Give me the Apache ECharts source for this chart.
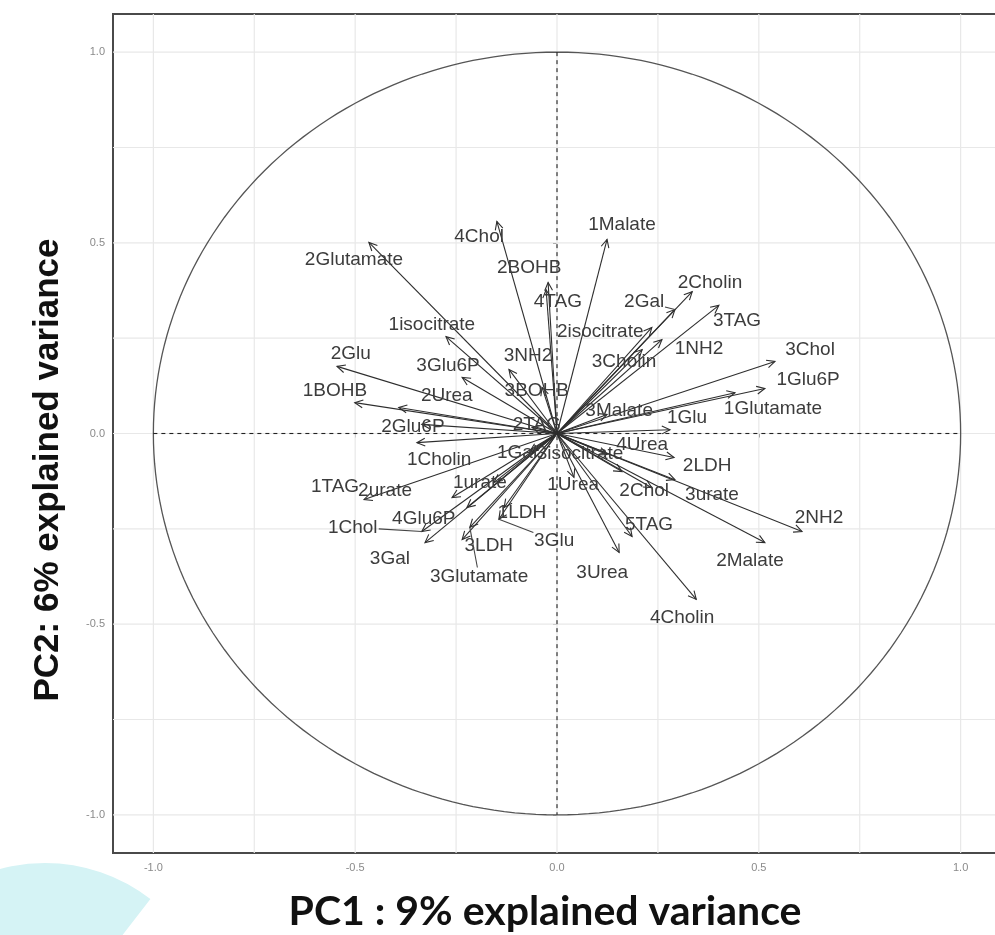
<!DOCTYPE html>
<html><head><meta charset="utf-8">
<script src="https://cdn.jsdelivr.net/npm/echarts@6.0.0/dist/echarts.min.js"></script>
<style>html,body{margin:0;padding:0;background:#fff}#c{width:995px;height:935px}</style>
</head><body><div id="c"></div>
<script>
// ---- data (variable loadings on PC1 / PC2) ----
const varNames = ['2Glutamate','4Chol','2BOHB','4TAG','1Malate','2Cholin','2Gal','3TAG','1isocitrate','2isocitrate',
  '1NH2','3Cholin','3Chol','1Glu6P','1Glutamate','3Malate','1Glu','2Glu','3Glu6P','3NH2',
  '1BOHB','2Urea','3BOHB','2Glu6P','2TAG','1Cholin','1Gal','3isocitrate','4Urea','2LDH',
  '3urate','2Chol','2NH2','2Malate','5TAG','3Urea','4Cholin','1Urea','1TAG','2urate',
  '1urate','4Glu6P','1Chol','3Gal','3LDH','3Glutamate','1LDH','3Glu'];
const pc1 = [-0.466,-0.149,-0.022,-0.027,0.124,0.335,0.292,0.401,-0.275,0.235,
  0.260,0.211,0.540,0.515,0.441,0.124,0.280,-0.545,-0.235,-0.119,
  -0.501,-0.392,-0.037,-0.335,-0.062,-0.347,-0.067,0.124,0.290,0.292,
  0.235,0.161,0.607,0.515,0.186,0.154,0.345,0.042,-0.478,-0.260,
  -0.156,-0.223,-0.335,-0.327,-0.235,-0.216,-0.131,-0.144];
const pc2 = [0.501,0.556,0.396,0.377,0.509,0.372,0.325,0.336,0.254,0.278,
  0.246,0.220,0.189,0.118,0.107,0.050,0.010,0.176,0.147,0.168,
  0.081,0.068,0.121,0.024,0.016,-0.024,-0.047,-0.055,-0.063,-0.121,
  -0.142,-0.100,-0.257,-0.286,-0.270,-0.312,-0.435,-0.115,-0.173,-0.168,
  -0.128,-0.194,-0.257,-0.286,-0.278,-0.246,-0.194,-0.225];
const labelPc1 = [-0.503,-0.193,-0.069,0.002,0.161,0.379,0.216,0.446,-0.310,0.107,
  0.352,0.166,0.627,0.622,0.535,0.154,0.322,-0.511,-0.270,-0.072,
  -0.550,-0.273,-0.050,-0.357,-0.050,-0.292,-0.099,0.057,0.211,0.372,
  0.384,0.216,0.649,0.478,0.228,0.112,0.310,0.040,-0.550,-0.426,
  -0.191,-0.330,-0.506,-0.414,-0.169,-0.193,-0.087,-0.007];
const labelPc2 = [0.456,0.516,0.435,0.346,0.548,0.396,0.346,0.296,0.286,0.267,
  0.223,0.189,0.220,0.142,0.066,0.060,0.042,0.210,0.178,0.204,
  0.113,0.100,0.113,0.018,0.024,-0.068,-0.050,-0.052,-0.029,-0.084,
  -0.160,-0.149,-0.220,-0.333,-0.239,-0.364,-0.482,-0.134,-0.139,-0.149,
  -0.128,-0.223,-0.246,-0.328,-0.294,-0.375,-0.207,-0.280];
const segmentLabels = ['1Chol','2Gal','3Glutamate','3Glu'];
const xTickValues = [-1, -0.5, 0, 0.5, 1];
const yTickValues = [-1, -0.5, 0, 0.5, 1];
const gridValues = [-1, -0.75, -0.5, -0.25, 0, 0.25, 0.5, 0.75, 1];
const xTitle = 'PC1 : 9% explained variance';
const yTitle = 'PC2: 6% explained variance';

// ---- chart ----
const chart = echarts.init(document.getElementById('c'), null, {renderer: 'canvas'});
const ARROW_COLOR = '#2e2e2e';
const LABEL_FONT = '19px "Liberation Sans", Arial, sans-serif';

const arrowData = pc1.map((x, i) => [x, pc2[i]]);
const labelData = labelPc1.map((x, i) => [x, labelPc2[i], pc1[i], pc2[i]]);

const option = {
  animation: false,
  backgroundColor: '#ffffff',
  grid: {left: 113, top: 14, width: 888, height: 839, show: true, outerBoundsMode: 'none', containLabel: false,
    borderColor: '#4a4a4a', borderWidth: 2, backgroundColor: 'transparent'},
  xAxis: {type: 'value', min: -1.1, max: 1.1,
    splitLine: {show: false}, axisLine: {show: false},
    axisTick: {show: true, customValues: xTickValues, length: 4, lineStyle: {color: '#777'}},
    axisLabel: {customValues: xTickValues, formatter: v => v.toFixed(1), color: '#8a8a8a', fontSize: 11, margin: 9,
      fontFamily: '"Liberation Sans", Arial, sans-serif'}},
  yAxis: {type: 'value', min: -1.1, max: 1.1,
    splitLine: {show: false}, axisLine: {show: false},
    axisTick: {show: true, customValues: yTickValues, length: 4, lineStyle: {color: '#777'}},
    axisLabel: {customValues: yTickValues, formatter: v => v.toFixed(1), color: '#8a8a8a', fontSize: 11, margin: 8,
      fontFamily: '"Liberation Sans", Arial, sans-serif'}},
  graphic: [
    {type: 'sector', z: -1, shape: {cx: 45, cy: 1035, r: 172, r0: 92, startAngle: -Math.PI, endAngle: -0.29 * Math.PI},
      style: {fill: '#d5f3f5'}},
    {type: 'text', x: 545, y: 912, z: 10,
      style: {text: xTitle, align: 'center', verticalAlign: 'middle', textAlign: 'center', textVerticalAlign: 'middle',
        font: 'bold 41px Lato, "Open Sans", sans-serif', fill: '#111'}},
    {type: 'text', x: 48, y: 470, rotation: Math.PI / 2, z: 10,
      style: {text: yTitle, align: 'center', verticalAlign: 'middle', textAlign: 'center', textVerticalAlign: 'middle',
        font: 'bold 35px "Liberation Sans", Arial, sans-serif', fill: '#111'}}
  ],
  series: [
    { // grid lines
      type: 'custom', silent: true, z: 1, clip: true,
      data: gridValues.map(v => [v, v]),
      renderItem(params, api) {
        const v = api.value(0);
        const cs = params.coordSys;
        const px = api.coord([v, 0])[0];
        const py = api.coord([0, v])[1];
        return {type: 'group', children: [
          {type: 'line', shape: {x1: px, y1: cs.y, x2: px, y2: cs.y + cs.height}, style: {stroke: '#e8e8e8', lineWidth: 1.2}},
          {type: 'line', shape: {x1: cs.x, y1: py, x2: cs.x + cs.width, y2: py}, style: {stroke: '#e8e8e8', lineWidth: 1.2}}
        ]};
      }
    },
    { // correlation circle and zero reference lines
      type: 'custom', silent: true, z: 2,
      data: [[0, 0]],
      renderItem(params, api) {
        const pts = [];
        for (let k = 0; k <= 240; k++) {
          const t = k / 240 * Math.PI * 2;
          pts.push(api.coord([Math.cos(t), Math.sin(t)]));
        }
        const l = api.coord([-1, 0]), r = api.coord([1, 0]);
        const t1 = api.coord([0, 1]), b = api.coord([0, -1]);
        return {type: 'group', children: [
          {type: 'polyline', shape: {points: pts}, style: {stroke: '#555', lineWidth: 1.3, fill: null}},
          {type: 'line', shape: {x1: l[0], y1: l[1], x2: r[0], y2: r[1]}, style: {stroke: '#222', lineWidth: 1.1, lineDash: [4, 4]}},
          {type: 'line', shape: {x1: t1[0], y1: t1[1], x2: b[0], y2: b[1]}, style: {stroke: '#222', lineWidth: 1.1, lineDash: [4, 4]}}
        ]};
      }
    },
    { // arrows
      type: 'custom', silent: true, z: 3,
      data: arrowData,
      renderItem(params, api) {
        const o = api.coord([0, 0]);
        const t = api.coord([api.value(0), api.value(1)]);
        const a = Math.atan2(t[1] - o[1], t[0] - o[0]);
        const L = 9, th = 0.45;
        const h1 = [t[0] - L * Math.cos(a - th), t[1] - L * Math.sin(a - th)];
        const h2 = [t[0] - L * Math.cos(a + th), t[1] - L * Math.sin(a + th)];
        return {type: 'group', children: [
          {type: 'line', shape: {x1: o[0], y1: o[1], x2: t[0], y2: t[1]}, style: {stroke: ARROW_COLOR, lineWidth: 1.1}},
          {type: 'polyline', shape: {points: [h1, t, h2]}, style: {stroke: ARROW_COLOR, lineWidth: 1.1, fill: null}}
        ]};
      }
    },
    { // labels
      type: 'custom', silent: true, z: 4,
      data: labelData,
      renderItem(params, api) {
        const name = varNames[params.dataIndex];
        const c = api.coord([api.value(0), api.value(1)]);
        const children = [];
        if (segmentLabels.indexOf(name) >= 0) {
          const t = api.coord([api.value(2), api.value(3)]);
          const hw = name.length * 5.2, hh = 9;
          const dx = t[0] - c[0], dy = t[1] - c[1];
          const s = Math.min(dx !== 0 ? hw / Math.abs(dx) : 1e9, dy !== 0 ? hh / Math.abs(dy) : 1e9, 1);
          children.push({type: 'line', shape: {x1: c[0] + dx * s, y1: c[1] + dy * s, x2: t[0], y2: t[1]},
            style: {stroke: '#444', lineWidth: 1.1}});
        }
        children.push({type: 'text', x: c[0], y: c[1],
          style: {text: name, align: 'center', verticalAlign: 'middle', textAlign: 'center', textVerticalAlign: 'middle',
            font: LABEL_FONT, fill: '#3c3c3c'}});
        return {type: 'group', children};
      }
    }
  ]
};
chart.setOption(option);
</script>
</body></html>
